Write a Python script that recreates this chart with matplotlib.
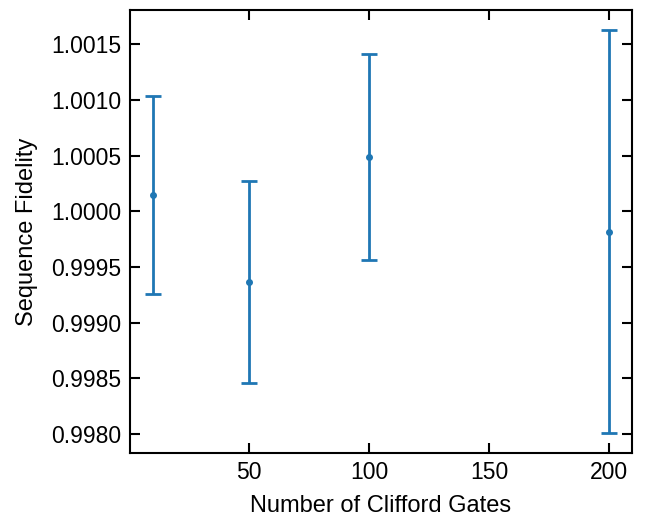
import numpy as np
import matplotlib
matplotlib.use("Agg")
import matplotlib.pyplot as plt

plt.rcParams['font.family'] = ['Liberation Sans', 'DejaVu Sans']

# data
gates = [10, 50, 100, 200]
fidelity = [1.000144, 0.999363, 1.000486, 0.999818]
fidelity_err = [0.000888, 0.000906, 0.000925, 0.001808]

fig = plt.figure(figsize=(6.48, 5.2), dpi=100)
ax = fig.add_axes([0.2006, 0.1288, 0.7746, 0.8520])

ax.errorbar(gates, fidelity, yerr=fidelity_err, fmt='o', color='#1f77b4',
            markersize=4, elinewidth=2, capsize=6, capthick=2)

ax.set_xlabel('Number of Clifford Gates', fontsize=17, labelpad=8)
ax.set_ylabel('Sequence Fidelity', fontsize=17, labelpad=10)
ax.set_xticks([50, 100, 150, 200])
ax.set_yticks([0.9980, 0.9985, 0.9990, 0.9995, 1.0000, 1.0005, 1.0010, 1.0015])
ax.yaxis.set_major_formatter(matplotlib.ticker.FormatStrFormatter('%.4f'))
ax.tick_params(direction='in', top=True, right=True, length=7, width=1.5,
               labelsize=16.5, pad=6)
for s in ax.spines.values():
    s.set_linewidth(1.5)

fig.savefig('out.png', dpi=100)
